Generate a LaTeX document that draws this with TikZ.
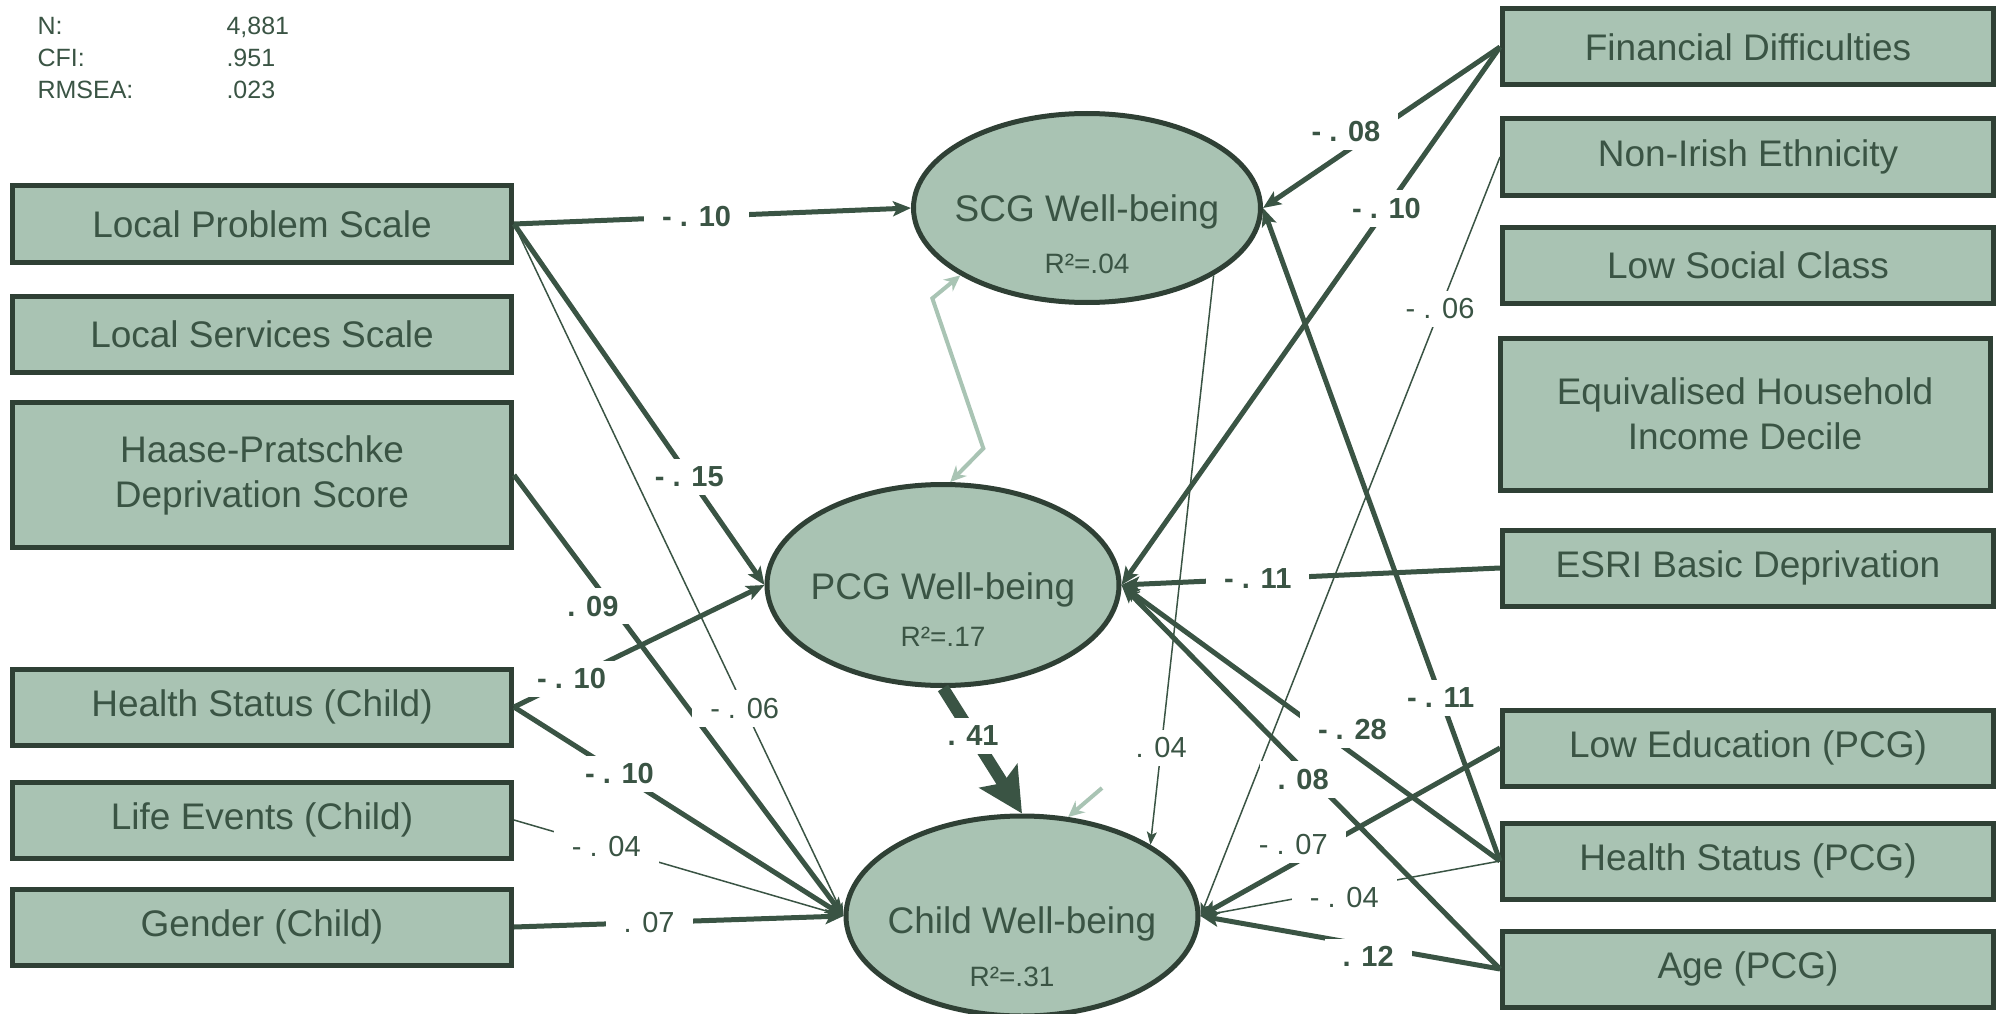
\documentclass[tikz,border=0pt]{standalone}
\usepackage{fontspec}
\setmainfont{Liberation Sans}
\usetikzlibrary{arrows.meta, positioning, shapes.geometric}
\definecolor{sage}{HTML}{A9C3B3}
\definecolor{pine}{HTML}{3A5444}
\definecolor{pinedark}{HTML}{2F4035}
\definecolor{mist}{HTML}{A9C4B4}
\tikzset{
    obsbox/.style={draw=pinedark, line width=5pt, fill=sage, text=pine, minimum width=499pt, minimum height=76pt, inner sep=0pt, align=center, font=\fontsize{37}{45}\selectfont}, % observed variables
    latent/.style={ellipse, draw=pinedark, line width=5pt, fill=sage, text=pine, inner sep=0pt, font=\fontsize{37}{45}\selectfont}, % well-being scores
    rsq/.style={text=pine, font=\fontsize{28}{28}\selectfont},
    stat/.style={text=pine, anchor=base west, font=\fontsize{25}{30}\selectfont},
    strong/.style={draw=pine, line width=5pt, -{Stealth[length=18pt,width=15pt,inset=4pt]}},
    weak/.style={draw=pine, line width=1.5pt, -{Stealth[length=13pt,width=10pt,inset=3pt]}},
    mistarrow/.style={draw=mist, line width=4pt},
    lab/.style={fill=white, text=pine, inner xsep=18pt, inner ysep=8pt, font=\fontsize{29}{29}\selectfont},
    labb/.style={lab, font=\fontsize{29}{29}\selectfont\bfseries},
}
\newcommand{\lowtitle}[2]{\raisebox{-#1}[0pt][0pt]{\makebox[0pt]{#2}}}
\begin{document}
\begin{tikzpicture}[x=1pt, y=-1pt]
    \useasboundingbox (0,0) rectangle (1998,1014);

    % Fit
    \node[stat] (nlab) at (34,35) {N:};
    \node[stat] (nval) at (223,35) {4,881};
    \node[stat] (cfilab) at (34,67) {CFI:};
    \node[stat] (cfival) at (223,67) {.951};
    \node[stat] (rmsealab) at (34,99) {RMSEA:};
    \node[stat] (rmseaval) at (223,99) {.023};

    % Left variables
    \node[obsbox] (lps) at (262,224) {Local Problem Scale};
    \node[obsbox] (lss) at (262,334) {Local Services Scale};
    \node[obsbox, minimum height=145pt] (haase) at (262,475) {Haase-Pratschke\\Deprivation Score};
    \node[obsbox] (hsc) at (262,707) {Health Status (Child)};
    \node[obsbox] (lec) at (262,820) {Life Events (Child)};
    \node[obsbox] (gc) at (262,927) {Gender (Child)};

    % Right variables
    \node[obsbox, minimum width=491pt] (fd) at (1748,47) {Financial Difficulties};
    \node[obsbox, minimum width=491pt] (nie) at (1748,157) {Non-Irish Ethnicity};
    \node[obsbox, minimum width=491pt] (lsc) at (1748,265) {Low Social Class};
    \node[obsbox, minimum width=490pt, minimum height=152pt] (ehid) at (1745,414) {Equivalised Household\\Income Decile};
    \node[obsbox, minimum width=491pt] (esri) at (1748,568) {ESRI Basic Deprivation};
    \node[obsbox, minimum width=491pt] (le) at (1748,748) {Low Education (PCG)};
    \node[obsbox, minimum width=491pt] (hsp) at (1748,861) {Health Status (PCG)};
    \node[obsbox, minimum width=491pt] (age) at (1748,969) {Age (PCG)};

    % Well-being
    \node[latent, minimum width=347pt, minimum height=189pt] (scg) at (1087,208) {\lowtitle{13pt}{SCG Well-being}};
    \node[latent, minimum width=352pt, minimum height=201pt] (pcg) at (943,585) {\lowtitle{14pt}{PCG Well-being}};
    \node[latent, minimum width=352pt, minimum height=200pt] (child) at (1022,916) {\lowtitle{17pt}{Child Well-being}};
    \node[rsq] (scgr) at (1087,264) {R²=.04};
    \node[rsq] (pcgr) at (943,637) {R²=.17};
    \node[rsq] (childr) at (1012,977) {R²=.31};

    % Paths from the left
    \path (haase.east) edge[strong] node[labb, pos=.27, xshift=-10pt, yshift=-12pt] {. 09} (child.west);
    \path (lps.east) edge[strong] node[labb, pos=.46] {- . 10} (scg.west)
                     edge[strong] node[labb, pos=.7] {- . 15} (pcg.west)
                     edge[weak] node[lab, pos=.7] {- . 06} (child.west);
    \path (hsc.east) edge[strong] node[labb, pos=.23] {- . 10} (pcg.west)
                     edge[strong] node[labb, pos=.32] {- . 10} (child.west);
    \path (lec.east) edge[weak] node[lab, pos=.28] {- . 04} (child.west);
    \path (gc.east) edge[strong] node[lab, pos=.41] {. 07} (child.west);

    % Paths from the right
    \path (fd.west) edge[strong] node[labb, pos=.65, yshift=20pt] {- . 08} (scg.east)
                    edge[strong] node[labb, pos=.3] {- . 10} (pcg.east);
    \path (nie.west) edge[weak] node[lab, pos=.2] {- . 06} (child.east);
    \path (esri.west) edge[strong] node[labb, pos=.64] {- . 11} (pcg.east);
    \path (le.west) edge[strong] node[lab, pos=.69, yshift=19pt] {- . 07} (child.east);
    \path (hsp.west) edge[strong] node[labb, pos=.25] {- . 11} (scg.east)
                     edge[strong] node[labb, pos=.39, yshift=24pt] {- . 28} (pcg.east)
                     edge[weak] node[lab, pos=.52, yshift=-8pt] {- . 04} (child.east);
    \path (age.west) edge[strong] node[labb, pos=.52, yshift=-10pt] {. 08} (pcg.east)
                     edge[strong] node[labb, pos=.44, yshift=-11pt] {. 12} (child.east);

    % Between the well-being scores
    \path (scg.-28) edge[weak] node[lab, pos=.83] {. 04} (child.29);
    \path (pcg.south) edge[draw=pine, line width=12pt, -{Stealth[length=44pt,width=44pt,inset=8pt]}] node[labb, pos=.38] {. 41} (child.north);
    \draw[mistarrow, {Stealth[length=16pt,width=15pt]}-{Stealth[length=16pt,width=15pt]}] (scg.208) -- ++(-28,23) -- ++(51,150) -- (pcg.86);
    \coordinate (childerr) at (1102,788);
    \draw[mistarrow, -{Stealth[length=16pt,width=15pt]}] (childerr) -- (child.65);
\end{tikzpicture}
\end{document}
